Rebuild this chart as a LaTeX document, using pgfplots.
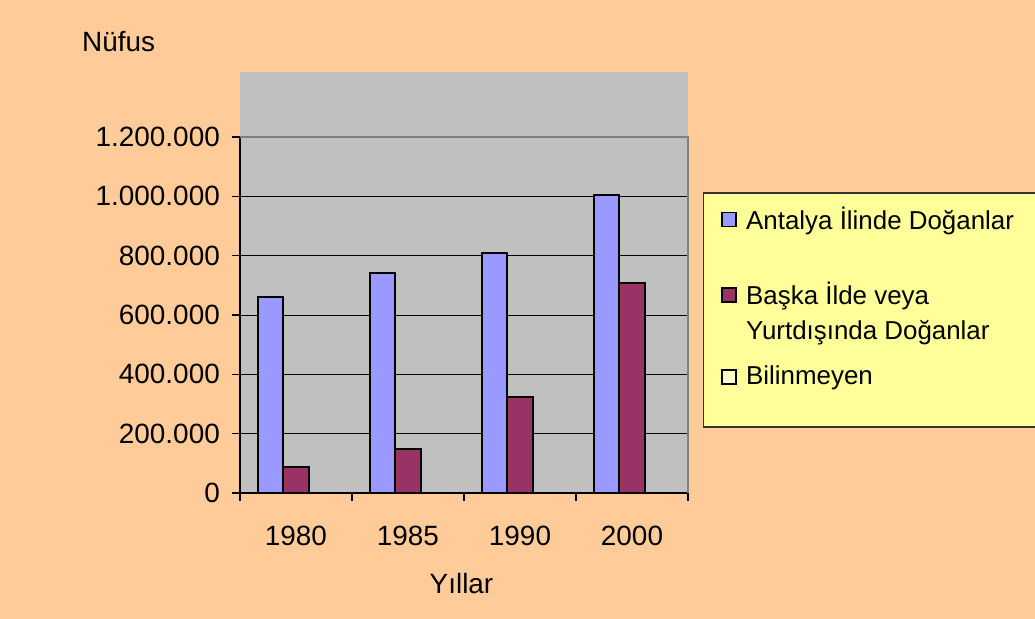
\documentclass[border=0pt]{standalone}
\usepackage{pgfplots}
\pgfplotsset{compat=1.18}
\usepackage{fontspec}
\setmainfont{Liberation Sans}

\definecolor{peach}{HTML}{FFCC99}
\definecolor{plotgrey}{HTML}{C0C0C0}
\definecolor{barblue}{HTML}{9999FF}
\definecolor{barred}{HTML}{993366}
\definecolor{legyellow}{HTML}{FFFF99}
\definecolor{lightyellow}{HTML}{FFFFCC}
\definecolor{bordergrey}{HTML}{808080}

\begin{document}
\begin{tikzpicture}
\clip (-240bp,-126bp) rectangle (795bp,493bp);
\fill[peach] (-240bp,-126bp) rectangle (795bp,493bp);
\fill[plotgrey] (0bp,0bp) rectangle (448bp,421bp);
\node[anchor=base west, inner sep=0pt, font=\fontsize{28}{34}\selectfont] at (-158bp,441bp) {Nüfus};

\begin{axis}[
  at={(0bp,0bp)}, anchor=south west,
  scale only axis, width=448bp, height=356bp,
  xmin=-0.5, xmax=3.5, ymin=0, ymax=1200000,
  ybar, bar width=25.5bp,
  axis line style={draw=none},
  tick align=outside, xtick pos=bottom, ytick pos=left,
  major tick length=8bp,
  tick style={black, line width=1.2bp},
  x tick label as interval,
  xtick={-0.5,0.5,1.5,2.5,3.5},
  xticklabels={1980,1985,1990,2000},
  ytick={0,200000,400000,600000,800000,1000000,1200000},
  yticklabels={0,200.000,400.000,600.000,800.000,1.000.000,1.200.000},
  scaled y ticks=false,
  xticklabel style={font=\fontsize{28}{34}\selectfont, anchor=base, inner sep=0pt, yshift=-44bp},
  yticklabel style={font=\fontsize{28}{34}\selectfont, anchor=east, inner sep=0pt, xshift=-12bp},
  ymajorgrids, major grid style={black, line width=1bp},
  xlabel={Yıllar},
  xlabel style={font=\fontsize{28}{34}\selectfont, at={(axis description cs:0.4944,0)}, anchor=base, inner sep=0pt, yshift=-100bp},
  clip=false,
]
% Antalya Ilinde Doganlar
\addplot[fill=barblue, draw=black, line width=2bp, bar shift=-25.5bp]
  coordinates {(0,660000) (1,741000) (2,808000) (3,1003000)};
% Baska Ilde veya Yurtdisinda Doganlar
\addplot[fill=barred, draw=black, line width=2bp, bar shift=0bp]
  coordinates {(0,87000) (1,147000) (2,324000) (3,708000)};

\draw[black, line width=1.8bp] (rel axis cs:0,1) -- (rel axis cs:0,0) -- (rel axis cs:1,0);
\draw[bordergrey, line width=1.8bp] (rel axis cs:0,1) -- (rel axis cs:1,1) -- (rel axis cs:1,0);
\end{axis}

% legend
\begin{scope}[font=\fontsize{26}{35}\selectfont]
\draw[fill=legyellow, draw=black!80, line width=1.2bp] (463.5bp,66bp) rectangle (810bp,300bp);
\draw[fill=barblue, line width=1.2bp] (482bp,266.5bp) rectangle (496bp,280.5bp);
\draw[fill=barred, line width=1.2bp] (482bp,191bp) rectangle (496bp,205bp);
\draw[fill=lightyellow, line width=1.2bp] (482bp,109bp) rectangle (496bp,123bp);
\node[anchor=base west, inner sep=0pt] at (506bp,263bp) {Antalya İlinde Doğanlar};
\node[anchor=base west, inner sep=0pt] at (506bp,188bp) {Başka İlde veya};
\node[anchor=base west, inner sep=0pt] at (506bp,153bp) {Yurtdışında Doğanlar};
\node[anchor=base west, inner sep=0pt] at (506bp,108bp) {Bilinmeyen};
\end{scope}
\end{tikzpicture}
\end{document}
